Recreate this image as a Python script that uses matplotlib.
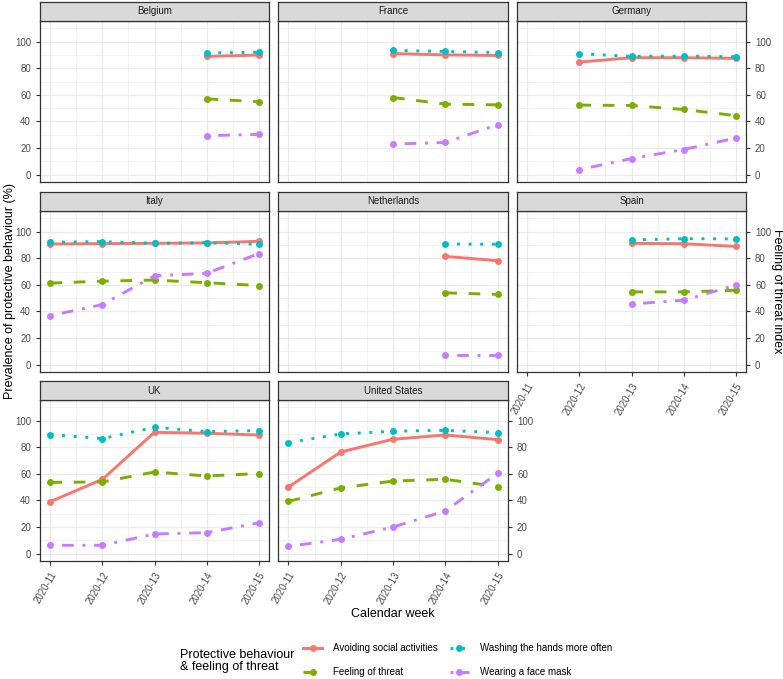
import numpy as np
import matplotlib
matplotlib.use("Agg")
import matplotlib.pyplot as plt
from matplotlib.lines import Line2D

plt.rcParams['font.family'] = ['Liberation Sans', 'DejaVu Sans']

weeks = ["2020-11", "2020-12", "2020-13", "2020-14", "2020-15"]
countries = ["Belgium", "France", "Germany", "Italy", "Netherlands", "Spain", "UK", "United States"]
nan = np.nan

# values per country, one per week (nan = not surveyed)
avoiding = {
    "Belgium": [nan, nan, nan, 88.9, 89.9],
    "France": [nan, nan, 91.0, 90.0, 89.6],
    "Germany": [nan, 84.6, 87.9, 87.9, 87.4],
    "Italy": [90.7, 91.0, 91.2, 91.5, 92.7],
    "Netherlands": [nan, nan, nan, 81.4, 78.1],
    "Spain": [nan, nan, 91.2, 90.9, 88.9],
    "UK": [39.1, 55.9, 91.2, 90.5, 89.2],
    "United States": [50.1, 76.4, 86.0, 89.2, 85.7],
}
washing = {
    "Belgium": [nan, nan, nan, 91.5, 92.0],
    "France": [nan, nan, 93.4, 92.6, 91.8],
    "Germany": [nan, 90.9, 88.9, 89.1, 88.6],
    "Italy": [92.0, 92.5, 91.2, 91.7, 90.5],
    "Netherlands": [nan, nan, nan, 90.7, 90.5],
    "Spain": [nan, nan, 93.7, 94.7, 94.5],
    "UK": [89.5, 86.5, 95.0, 91.7, 92.5],
    "United States": [83.5, 90.0, 92.0, 92.7, 91.0],
}
threat = {
    "Belgium": [nan, nan, nan, 57.0, 54.8],
    "France": [nan, nan, 58.0, 53.0, 52.5],
    "Germany": [nan, 52.3, 52.0, 49.0, 44.4],
    "Italy": [61.3, 62.8, 63.6, 61.6, 59.5],
    "Netherlands": [nan, nan, nan, 54.0, 52.8],
    "Spain": [nan, nan, 54.7, 54.7, 55.9],
    "UK": [53.6, 53.9, 61.4, 58.4, 60.2],
    "United States": [39.3, 49.4, 54.6, 55.9, 50.4],
}
mask = {
    "Belgium": [nan, nan, nan, 29.3, 30.3],
    "France": [nan, nan, 23.0, 24.2, 37.6],
    "Germany": [nan, 3.8, 12.1, 18.9, 27.5],
    "Italy": [36.9, 45.2, 66.8, 68.6, 83.4],
    "Netherlands": [nan, nan, nan, 7.3, 7.3],
    "Spain": [nan, nan, 45.6, 48.4, 59.7],
    "UK": [6.3, 6.3, 14.8, 15.8, 23.1],
    "United States": [5.5, 10.8, 20.0, 32.1, 60.4],
}

series = [
    ("Avoiding social activities", avoiding, "#F8766D", "-"),
    ("Feeling of threat", threat, "#7CAE00", (0, (4, 4))),
    ("Washing the hands more often", washing, "#00BFC4", (0, (1, 3))),
    ("Wearing a face mask", mask, "#C77CFF", (0, (1, 3, 4, 3))),
]

W, H = 783, 679
fig = plt.figure(figsize=(W / 100, H / 100), dpi=100)


def px_axes(x0, y0, x1, y1):
    return fig.add_axes([x0 / W, 1 - y1 / H, (x1 - x0) / W, (y1 - y0) / H])


cols = [(40, 269), (278, 508), (517, 746)]
rows = [(21, 182), (211, 372), (400, 561)]
strips = [(2, 21), (192, 211), (381, 400)]
x = np.arange(1, 6)

for i, country in enumerate(countries):
    r, c = divmod(i, 3)
    ax = px_axes(cols[c][0], rows[r][0], cols[c][1], rows[r][1])
    for name, d, col, ls in series:
        ax.plot(x, d[country], color=col, linestyle=ls, lw=2.1, marker="o",
                markersize=5, markeredgewidth=0, zorder=3)
    ax.set_xlim(0.8, 5.2)
    ax.set_ylim(-5.5, 115.5)
    ax.set_xticks(x)
    ax.set_xticks(x[:-1] + 0.5, minor=True)
    ax.set_yticks([0, 20, 40, 60, 80, 100])
    ax.set_yticks([10, 30, 50, 70, 90, 110], minor=True)
    ax.grid(which="major", color="#EBEBEB", lw=0.9)
    ax.grid(which="minor", color="#EBEBEB", lw=0.45)
    ax.set_axisbelow(True)
    for s in ax.spines.values():
        s.set_color("#333333")
        s.set_linewidth(0.9)
    ax.tick_params(which="minor", length=0)
    ax.tick_params(which="major", colors="#333333", labelcolor="#4D4D4D",
                   labelsize=7, length=3, width=0.8)
    # axis placement like facet_wrap with a secondary axis
    left = c == 0
    right = c == 2 or i == 7
    bottom = r == 2 or i == 5
    ax.tick_params(axis="y", left=left, labelleft=left, right=right, labelright=right)
    ax.tick_params(axis="x", bottom=bottom, labelbottom=bottom)
    if bottom:
        ax.set_xticklabels(weeks, rotation=60, ha="right", va="top",
                           rotation_mode="anchor")
    # strip
    sax = px_axes(cols[c][0], strips[r][0], cols[c][1], strips[r][1])
    sax.set_xticks([])
    sax.set_yticks([])
    sax.set_facecolor("#D9D9D9")
    for s in sax.spines.values():
        s.set_color("#333333")
        s.set_linewidth(0.9)
    sax.text(0.5, 0.5, country, ha="center", va="center", fontsize=7,
             color="#1A1A1A", transform=sax.transAxes)

fig.text(10 / W, 1 - 291 / H, "Prevalence of protective behaviour (%)",
         rotation=90, ha="center", va="center", fontsize=9)
fig.text(777 / W, 1 - 291 / H, "Feeling of threat index",
         rotation=270, ha="center", va="center", fontsize=9)
fig.text(393 / W, 1 - 614 / H, "Calendar week", ha="center", va="center", fontsize=9)

fig.text(180 / W, 1 - 661 / H, "Protective behaviour\n& feeling of threat",
         ha="left", va="center", fontsize=9, linespacing=1.1)

handles = [Line2D([], [], color=col, linestyle=ls, lw=2.1, marker="o",
                  markersize=5, markeredgewidth=0)
           for _, _, col, ls in series]
labels = [s[0] for s in series]
fig.legend(handles, labels, ncol=2, loc="center left",
           bbox_to_anchor=(303 / W, 1 - 660 / H), frameon=False, fontsize=7,
           handlelength=2.0, handletextpad=1.1, columnspacing=1.2,
           labelspacing=1.45, borderaxespad=0, borderpad=0)

fig.savefig("out.png", dpi=100)
